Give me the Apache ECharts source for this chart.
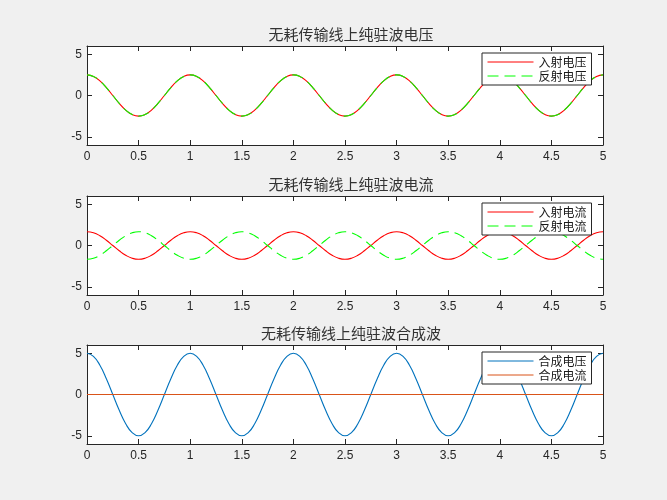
<!DOCTYPE html>
<html>
<head>
<meta charset="utf-8">
<script src="https://cdn.jsdelivr.net/npm/echarts@6/dist/echarts.min.js"></script>
<style>
html,body{margin:0;padding:0;background:#f0f0f0;}
#chart{width:667px;height:500px;}
</style>
</head>
<body>
<div id="chart"></div>
<script>
// ---- data ----
var titles = ['无耗传输线上纯驻波电压', '无耗传输线上纯驻波电流', '无耗传输线上纯驻波合成波'];
var xTicks = [0, 0.5, 1, 1.5, 2, 2.5, 3, 3.5, 4, 4.5, 5];
var yTicks = [-5, 0, 5];
var xs = [
  0,0.0625,0.125,0.1875,0.25,0.3125,0.375,0.4375,0.5,0.5625,0.625,0.6875,0.75,0.8125,0.875,0.9375,
  1,1.0625,1.125,1.1875,1.25,1.3125,1.375,1.4375,1.5,1.5625,1.625,1.6875,1.75,1.8125,1.875,1.9375,
  2,2.0625,2.125,2.1875,2.25,2.3125,2.375,2.4375,2.5,2.5625,2.625,2.6875,2.75,2.8125,2.875,2.9375,
  3,3.0625,3.125,3.1875,3.25,3.3125,3.375,3.4375,3.5,3.5625,3.625,3.6875,3.75,3.8125,3.875,3.9375,
  4,4.0625,4.125,4.1875,4.25,4.3125,4.375,4.4375,4.5,4.5625,4.625,4.6875,4.75,4.8125,4.875,4.9375,
  5];
var incidentVoltage = [
  2.5,2.31,1.77,0.96,0,-0.96,-1.77,-2.31,-2.5,-2.31,-1.77,-0.96,0,0.96,1.77,2.31,
  2.5,2.31,1.77,0.96,0,-0.96,-1.77,-2.31,-2.5,-2.31,-1.77,-0.96,0,0.96,1.77,2.31,
  2.5,2.31,1.77,0.96,0,-0.96,-1.77,-2.31,-2.5,-2.31,-1.77,-0.96,0,0.96,1.77,2.31,
  2.5,2.31,1.77,0.96,0,-0.96,-1.77,-2.31,-2.5,-2.31,-1.77,-0.96,0,0.96,1.77,2.31,
  2.5,2.31,1.77,0.96,0,-0.96,-1.77,-2.31,-2.5,-2.31,-1.77,-0.96,0,0.96,1.77,2.31,
  2.5];
var reflectedVoltage = [
  2.5,2.31,1.77,0.96,0,-0.96,-1.77,-2.31,-2.5,-2.31,-1.77,-0.96,0,0.96,1.77,2.31,
  2.5,2.31,1.77,0.96,0,-0.96,-1.77,-2.31,-2.5,-2.31,-1.77,-0.96,0,0.96,1.77,2.31,
  2.5,2.31,1.77,0.96,0,-0.96,-1.77,-2.31,-2.5,-2.31,-1.77,-0.96,0,0.96,1.77,2.31,
  2.5,2.31,1.77,0.96,0,-0.96,-1.77,-2.31,-2.5,-2.31,-1.77,-0.96,0,0.96,1.77,2.31,
  2.5,2.31,1.77,0.96,0,-0.96,-1.77,-2.31,-2.5,-2.31,-1.77,-0.96,0,0.96,1.77,2.31,
  2.5];
var incidentCurrent = [
  1.67,1.54,1.18,0.64,0,-0.64,-1.18,-1.54,-1.67,-1.54,-1.18,-0.64,0,0.64,1.18,1.54,
  1.67,1.54,1.18,0.64,0,-0.64,-1.18,-1.54,-1.67,-1.54,-1.18,-0.64,0,0.64,1.18,1.54,
  1.67,1.54,1.18,0.64,0,-0.64,-1.18,-1.54,-1.67,-1.54,-1.18,-0.64,0,0.64,1.18,1.54,
  1.67,1.54,1.18,0.64,0,-0.64,-1.18,-1.54,-1.67,-1.54,-1.18,-0.64,0,0.64,1.18,1.54,
  1.67,1.54,1.18,0.64,0,-0.64,-1.18,-1.54,-1.67,-1.54,-1.18,-0.64,0,0.64,1.18,1.54,
  1.67];
var reflectedCurrent = [
  -1.67,-1.54,-1.18,-0.64,0,0.64,1.18,1.54,1.67,1.54,1.18,0.64,0,-0.64,-1.18,-1.54,
  -1.67,-1.54,-1.18,-0.64,0,0.64,1.18,1.54,1.67,1.54,1.18,0.64,0,-0.64,-1.18,-1.54,
  -1.67,-1.54,-1.18,-0.64,0,0.64,1.18,1.54,1.67,1.54,1.18,0.64,0,-0.64,-1.18,-1.54,
  -1.67,-1.54,-1.18,-0.64,0,0.64,1.18,1.54,1.67,1.54,1.18,0.64,0,-0.64,-1.18,-1.54,
  -1.67,-1.54,-1.18,-0.64,0,0.64,1.18,1.54,1.67,1.54,1.18,0.64,0,-0.64,-1.18,-1.54,
  -1.67];
var totalVoltage = [
  5,4.62,3.54,1.91,0,-1.91,-3.54,-4.62,-5,-4.62,-3.54,-1.91,0,1.91,3.54,4.62,
  5,4.62,3.54,1.91,0,-1.91,-3.54,-4.62,-5,-4.62,-3.54,-1.91,0,1.91,3.54,4.62,
  5,4.62,3.54,1.91,0,-1.91,-3.54,-4.62,-5,-4.62,-3.54,-1.91,0,1.91,3.54,4.62,
  5,4.62,3.54,1.91,0,-1.91,-3.54,-4.62,-5,-4.62,-3.54,-1.91,0,1.91,3.54,4.62,
  5,4.62,3.54,1.91,0,-1.91,-3.54,-4.62,-5,-4.62,-3.54,-1.91,0,1.91,3.54,4.62,
  5];
var totalCurrent = [
  0,0,0,0,0,0,0,0,0,0,0,0,0,0,0,0,
  0,0,0,0,0,0,0,0,0,0,0,0,0,0,0,0,
  0,0,0,0,0,0,0,0,0,0,0,0,0,0,0,0,
  0,0,0,0,0,0,0,0,0,0,0,0,0,0,0,0,
  0,0,0,0,0,0,0,0,0,0,0,0,0,0,0,0,
  0];
var seriesNames = [['入射电压', '反射电压'], ['入射电流', '反射电流'], ['合成电压', '合成电流']];

// ---- build ----
function pairs(v) { return xs.map(function (x, i) { return [x, v[i]]; }); }

var tops = [46, 196, 345];
var gridH = 99, gridLeft = 87, gridRight = 64;
var axisColor = '#262626';
var numFont = 'Liberation Sans, Arial, sans-serif';
var cjkFont = 'Noto Sans CJK SC, sans-serif';

var grids = [], xAxes = [], yAxes = [], titleArr = [], legends = [], series = [];
for (var g = 0; g < 3; g++) {
  grids.push({ left: gridLeft, right: gridRight, top: tops[g], height: gridH, show: true, backgroundColor: '#ffffff', borderWidth: 0 });
  var common = { min: 0, max: 5, interval: 0.5, gridIndex: g, type: 'value', splitLine: { show: false },
    axisLine: { show: true, onZero: false, lineStyle: { color: axisColor, width: 1 } },
    axisTick: { show: true, inside: true, length: 5, lineStyle: { color: axisColor } } };
  xAxes.push(Object.assign({}, common, { position: 'bottom',
    axisLabel: { show: true, margin: 6, color: axisColor, fontSize: 12, fontFamily: numFont, showMinLabel: true, showMaxLabel: true, formatter: function (v) { return String(v); } } }));
  xAxes.push(Object.assign({}, common, { position: 'top', axisLabel: { show: false } }));
  var ycommon = { min: -6, max: 6, gridIndex: g, type: 'value', splitLine: { show: false },
    axisLine: { show: true, onZero: false, lineStyle: { color: axisColor, width: 1 } },
    axisTick: { show: true, inside: true, length: 5, customValues: yTicks, lineStyle: { color: axisColor } } };
  yAxes.push(Object.assign({}, ycommon, { position: 'left',
    axisLabel: { show: true, margin: 5, color: axisColor, fontSize: 12, fontFamily: numFont, customValues: yTicks } }));
  yAxes.push(Object.assign({}, ycommon, { position: 'right', axisLabel: { show: false } }));
  titleArr.push({ text: titles[g], left: 346, top: tops[g] - 24, textAlign: 'center',
    textStyle: { fontSize: 15, fontWeight: 'normal', color: '#333333', fontFamily: cjkFont } });
  legends.push({ data: seriesNames[g], orient: 'vertical', left: 482, top: tops[g] + 7,
    backgroundColor: '#ffffff', borderColor: axisColor, borderWidth: 1, borderRadius: 0,
    padding: [3, 5, 3, 5], itemGap: 2, itemWidth: 46, itemHeight: 12, selectedMode: false,
    itemStyle: { opacity: 0 }, lineStyle: { width: 1 },
    textStyle: { fontSize: 12, color: '#1a1a1a', fontFamily: cjkFont, padding: [0, 0, 0, 0] } });
}

function line(name, g, data, color, dashed) {
  return { name: name, type: 'line', xAxisIndex: g * 2, yAxisIndex: g * 2, data: pairs(data),
    showSymbol: false, symbol: 'none', smooth: true, animation: false,
    lineStyle: { color: color, width: 1.1, type: dashed ? [11, 6] : 'solid' }, itemStyle: { color: color } };
}
series.push(line(seriesNames[0][0], 0, incidentVoltage, '#ff0000', false));
series.push(line(seriesNames[0][1], 0, reflectedVoltage, '#00ff00', true));
series.push(line(seriesNames[1][0], 1, incidentCurrent, '#ff0000', false));
series.push(line(seriesNames[1][1], 1, reflectedCurrent, '#00ff00', true));
series.push(line(seriesNames[2][0], 2, totalVoltage, '#0072bd', false));
series.push(line(seriesNames[2][1], 2, totalCurrent, '#d95319', false));

var chart = echarts.init(document.getElementById('chart'), null, { renderer: 'canvas' });
chart.setOption({
  backgroundColor: '#f0f0f0',
  animation: false,
  title: titleArr,
  legend: legends,
  grid: grids,
  xAxis: xAxes,
  yAxis: yAxes,
  series: series
});
</script>
</body>
</html>
